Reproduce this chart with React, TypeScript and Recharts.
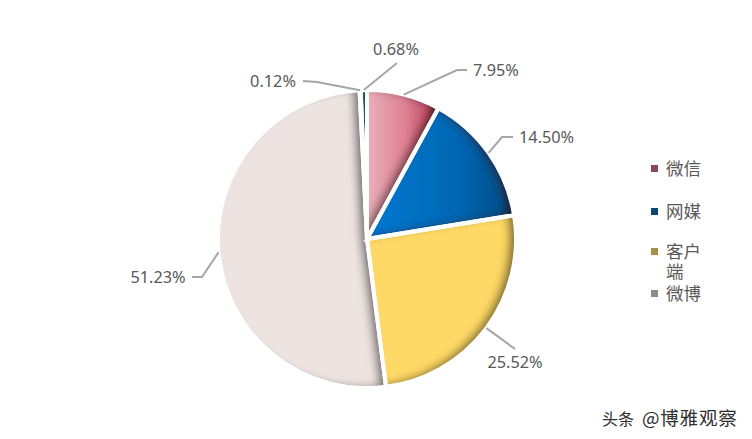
import { PieChart, Pie, Cell, Legend } from "recharts";

const names = ["微信", "网媒", "客户端", "微博", "其他", "论坛"];
const shares = [7.95, 14.5, 25.52, 51.23, 0.12, 0.68];
const labels = ["7.95%", "14.50%", "25.52%", "51.23%", "0.12%", "0.68%"];
const fills = ["url(#pink)", "url(#blue)", "#FFD966", "#EDE4E1", "#7F7F7F", "#1E5B4F"];
const legendColors = ["#8A4A58", "#0B4675", "#A98F45", "#8E8C8E"];

// where each label line bends and ends, and where its text sits
const lineBends = [
    [[457, 70], [467, 70]],
    [[502, 137], [513, 137]],
    [[515, 349]],
    [[202, 277], [192, 277]],
    [[317, 82], [303, 81]],
    [[397, 63]]
];
const labelSpots: [number, number, "start" | "middle" | "end"][] = [
    [473, 70, "start"],
    [519, 137, "start"],
    [515, 362, "middle"],
    [158, 277, "middle"],
    [273, 81, "middle"],
    [396, 49, "middle"]
];

const data = names.map((name, i) => ({ name, value: shares[i] }));
const FONT = "'Noto Sans', 'Noto Sans CJK SC', sans-serif";

function renderLine(props: any) {
    const start = props.points[0];
    const pts = [[start.x, start.y], ...lineBends[props.index]];
    return (
        <polyline
            points={pts.map((p) => p.join(",")).join(" ")}
            fill="none"
            stroke="#A6A6A6"
            strokeWidth={2}
        />
    );
}

function renderLabel(props: any) {
    const [x, y, anchor] = labelSpots[props.index];
    return (
        <text
            x={x}
            y={y}
            textAnchor={anchor}
            dominantBaseline="central"
            fontSize={16.3}
            fontFamily={FONT}
            fill="#595959"
        >
            {labels[props.index]}
        </text>
    );
}

function LegendList() {
    return (
        <div style={{ position: "relative", width: 60, height: 150, fontFamily: FONT, fontSize: 17.5, color: "#595959", lineHeight: "20px" }}>
            {[0, 1, 2, 3].map((i) => (
                <div key={i} style={{ position: "absolute", left: 0, top: [0, 43, 83, 125][i], width: 60 }}>
                    <span style={{ position: "absolute", left: 0, top: 7, width: 7, height: 7, background: legendColors[i] }} />
                    <span style={{ position: "absolute", left: 15, top: 0, width: 36 }}>{names[i]}</span>
                </div>
            ))}
        </div>
    );
}

export default function App() {
    return (
        <div style={{ position: "absolute", left: 0, top: 0, width: 752, height: 439, background: "#fff" }}>
            <PieChart width={752} height={439} margin={{ top: 0, right: 0, bottom: 0, left: 0 }}>
                <defs>
                    <linearGradient id="pink" x1="0" y1="0" x2="1" y2="0">
                        <stop offset="0%" stopColor="#EBAFB9" />
                        <stop offset="55%" stopColor="#DE8093" />
                        <stop offset="85%" stopColor="#C65068" />
                        <stop offset="100%" stopColor="#8C2F42" />
                    </linearGradient>
                    <linearGradient id="blue" x1="0" y1="0" x2="1" y2="0">
                        <stop offset="0%" stopColor="#0078D2" />
                        <stop offset="60%" stopColor="#0068B4" />
                        <stop offset="90%" stopColor="#00528E" />
                        <stop offset="100%" stopColor="#013A63" />
                    </linearGradient>
                    <filter id="innerShadow" x="-30%" y="-30%" width="160%" height="160%">
                        <feComponentTransfer in="SourceAlpha" result="inverse">
                            <feFuncA type="table" tableValues="1 0" />
                        </feComponentTransfer>
                        <feGaussianBlur in="inverse" stdDeviation="4" result="blur" />
                        <feOffset in="blur" dx="-7" dy="-1.5" result="shift" />
                        <feFlood floodColor="#1F1A10" floodOpacity="0.8" />
                        <feComposite in2="shift" operator="in" result="shade" />
                        <feComposite in="shade" in2="SourceAlpha" operator="in" result="inner" />
                        <feMerge>
                            <feMergeNode in="SourceGraphic" />
                            <feMergeNode in="inner" />
                        </feMerge>
                    </filter>
                </defs>
                <Pie
                    data={data}
                    dataKey="value"
                    nameKey="name"
                    cx={367}
                    cy={239}
                    outerRadius={149}
                    startAngle={90}
                    endAngle={-270}
                    stroke="none"
                    label={renderLabel}
                    labelLine={renderLine}
                    isAnimationActive={false}
                >
                    {data.map((d, i) => (
                        <Cell key={d.name} fill={fills[i]} filter="url(#innerShadow)" />
                    ))}
                </Pie>
                <Pie
                    data={data}
                    dataKey="value"
                    cx={367}
                    cy={239}
                    outerRadius={149}
                    startAngle={90}
                    endAngle={-270}
                    fill="none"
                    stroke="#FFFFFF"
                    strokeWidth={4}
                    legendType="none"
                    isAnimationActive={false}
                />
                <Legend
                    layout="vertical"
                    content={<LegendList />}
                    wrapperStyle={{ position: "absolute", left: 651, top: 158, width: 60 }}
                />
            </PieChart>
            <div style={{ position: "absolute", left: 602, top: 405, height: 24, fontFamily: "'Noto Sans CJK SC', sans-serif", color: "#2E2E2E", lineHeight: "24px", whiteSpace: "nowrap" }}>
                <span style={{ fontSize: 16 }}>头条</span>
                <span style={{ fontSize: 18.5, marginLeft: 8, letterSpacing: 0.8 }}>@博雅观察</span>
            </div>
        </div>
    );
}
